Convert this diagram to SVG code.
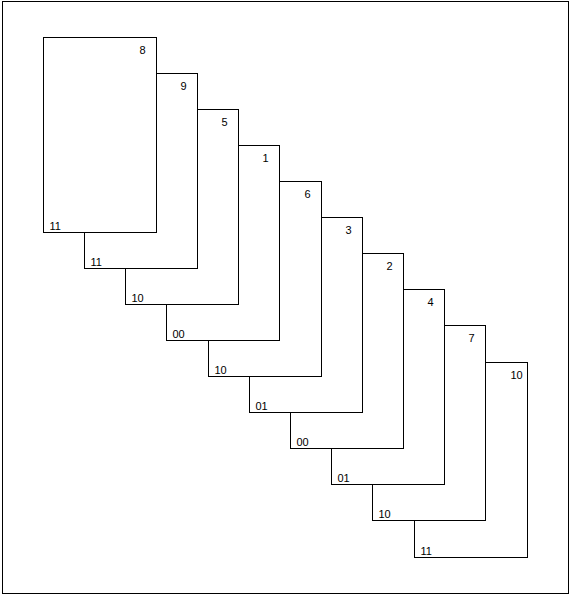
<svg xmlns="http://www.w3.org/2000/svg" width="571" height="595" viewBox="0 0 571 595">
<style>
.card rect{fill:#fff;stroke:#000;stroke-width:1}
text{font-family:"Liberation Sans",Arial,sans-serif;font-size:11px;fill:#000}
</style>
<rect x="0" y="0" width="571" height="595" fill="#fff"/>
<rect id="border" x="2.5" y="1.5" width="566" height="592" fill="none" stroke="#000"/>
<g id="cards">
<g id="card10" class="card"><rect x="414.5" y="362.5" width="113" height="195"/><text x="510.5" y="378.5">10</text><text x="420.5" y="555">11</text></g>
<g id="card9" class="card"><rect x="372.5" y="325.5" width="113" height="195"/><text x="468.5" y="341.5">7</text><text x="378.5" y="518">10</text></g>
<g id="card8" class="card"><rect x="331.5" y="289.5" width="113" height="195"/><text x="427.5" y="305.5">4</text><text x="337.5" y="482">01</text></g>
<g id="card7" class="card"><rect x="290.5" y="253.5" width="113" height="195"/><text x="386.5" y="269.5">2</text><text x="296.5" y="446">00</text></g>
<g id="card6" class="card"><rect x="249.5" y="217.5" width="113" height="195"/><text x="345.5" y="233.5">3</text><text x="255.5" y="410">01</text></g>
<g id="card5" class="card"><rect x="208.5" y="181.5" width="113" height="195"/><text x="304.5" y="197.5">6</text><text x="214.5" y="374">10</text></g>
<g id="card4" class="card"><rect x="166.5" y="145.5" width="113" height="195"/><text x="262.5" y="161.5">1</text><text x="172.5" y="338">00</text></g>
<g id="card3" class="card"><rect x="125.5" y="109.5" width="113" height="195"/><text x="221.5" y="125.5">5</text><text x="131.5" y="302">10</text></g>
<g id="card2" class="card"><rect x="84.5" y="73.5" width="113" height="195"/><text x="180.5" y="89.5">9</text><text x="90.5" y="266">11</text></g>
<g id="card1" class="card"><rect x="43.5" y="37.5" width="113" height="195"/><text x="139.5" y="53.5">8</text><text x="49.5" y="230">11</text></g>
</g>
<g id="connectors"></g>
</svg>
